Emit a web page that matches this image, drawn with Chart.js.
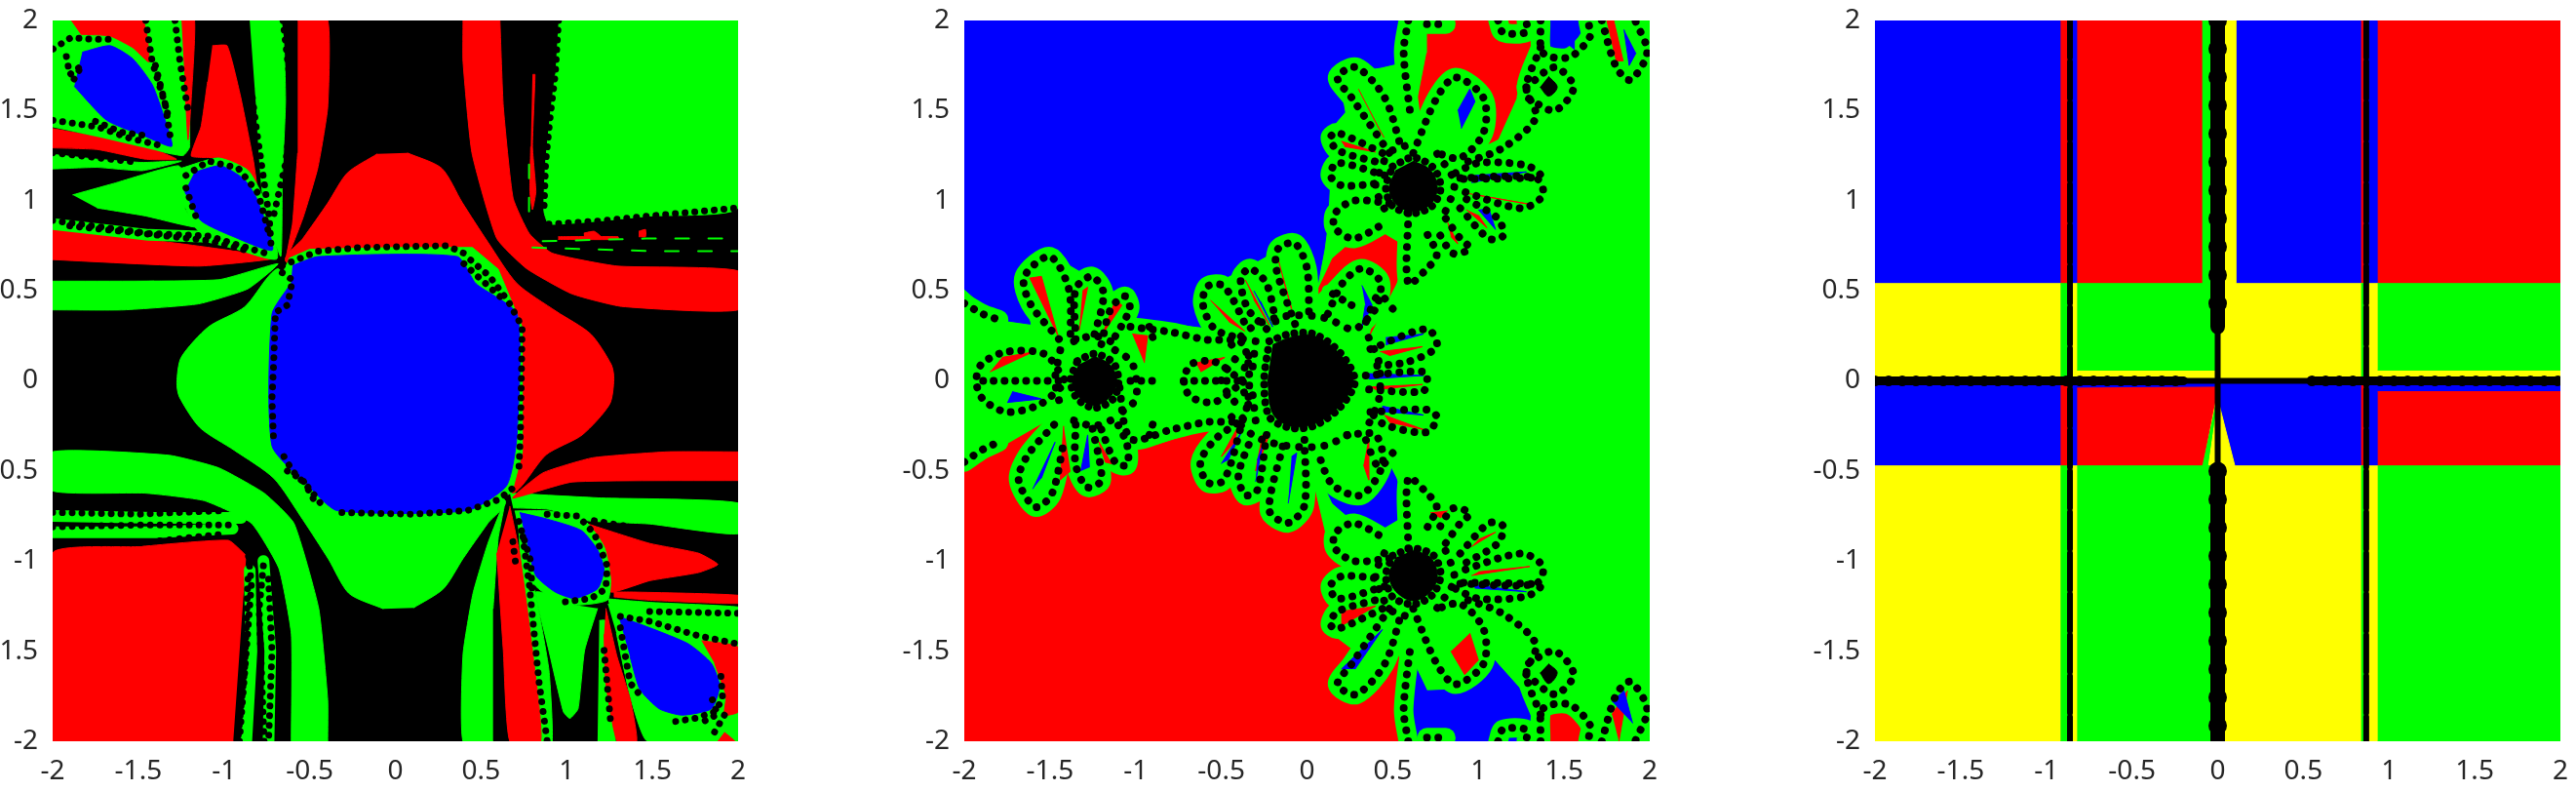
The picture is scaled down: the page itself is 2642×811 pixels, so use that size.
<!DOCTYPE html>
<html>
<head>
<meta charset="utf-8">
<script src="https://cdn.jsdelivr.net/npm/chart.js@4/dist/chart.umd.min.js"></script>
<style>
html, body { margin: 0; padding: 0; background: #fff; }
.panel { position: absolute; top: 0; height: 811px; }
</style>
</head>
<body>
<div class="panel" style="left:0;width:800px"><canvas id="c1" width="800" height="811"></canvas></div>
<div class="panel" style="left:920px;width:800px"><canvas id="c2" width="800" height="811"></canvas></div>
<div class="panel" style="left:1842px;width:800px"><canvas id="c3" width="800" height="811"></canvas></div>
<script>
var tickValues = [-2, -1.5, -1, -0.5, 0, 0.5, 1, 1.5, 2];
var tickLabels = ['-2', '-1.5', '-1', '-0.5', '0', '0.5', '1', '1.5', '2'];

var fullSquare = [[-2, 2], [2, 2], [2, -2], [-2, -2]];

// panel 1
var p1Green = [
    // upper left
    [[-2, 2], [-1.25, 2], [-1.2, 1.3], [-1.24, 1.25], [-1.5, 1.3], [-2, 1.43]],
    [[-2, 1.257], [-1.741, 1.23], [-1.476, 1.212], [-1.248, 1.22], [-1.476, 1.167], [-1.741, 1.185], [-2, 1.176]],
    [[-1.884, 1.032], [-1.646, 1.095], [-1.267, 1.194], [-1.2, 1.1], [-1.229, .96], [-1.153, .852], [-1.457, .915], [-1.741, .96]],
    [[-2, .553], [-1.033, .561], [-.685, .65], [-.86, .511], [-1.15, .427], [-1.585, .394], [-2, .394]],
    [[-.85, 2], [-.669, 2], [-.641, 1.57], [-.66, 1.122], [-.669, .69], [-.774, 1.032], [-.81, 1.482]],
    // upper right block
    [[.952, 2], [2, 2], [2, .96], [1.484, .915], [1.199, .888], [.896, .87], [.867, .942], [.877, 1.212], [.905, 1.48], [.933, 1.7]],
    // lower left band
    [[-.607, -2], [-.607, -1.405], [-.68, -1.04], [-.84, -.79], [-1.115, -.665], [-1.46, -.623], [-2, -.61], [-2, -.394], [-1.32, -.413], [-1.03, -.483], [-.766, -.623], [-.592, -.79], [-.447, -1.265], [-.395, -1.77], [-.395, -2]],
    // lower right
    [[.668, -.623], [1.2, -.65], [2, -.678], [2, -.848], [1.484, -.794], [1.123, -.776], [.896, -.713], [.687, -.705]],
    [[1.24, -1.24], [2, -1.3], [2, -2], [1.47, -2], [1.37, -1.75], [1.29, -1.4]],
    [[1.18, -1.262], [1.104, -1.496], [1.066, -1.82], [1.019, -1.873], [.981, -1.837], [.896, -1.496], [.82, -1.172], [.914, -1.19], [1.047, -1.244]],
    [[1.19, -1.33], [1.225, -1.33], [1.284, -2], [1.18, -2]],
    [[.715, -.776], [.782, -1.01], [.82, -1.19], [.896, -1.604], [.915, -2], [.848, -2], [.8, -1.496], [.725, -.956]],
    [[.57, -2], [.395, -2], [.395, -1.517], [.453, -1.18], [.54, -.902], [.64, -.665], [.6, -.874], [.57, -1.265]],
    [[1.24, -1.21], [1.5, -1.23], [2, -1.255], [2, -1.3], [1.5, -1.28], [1.25, -1.25]]
];
var p1Red = [
    // upper left
    [[-1.893, 2], [-1.476, 2], [-1.438, 1.77], [-1.533, 1.85], [-1.665, 1.914], [-1.836, 1.923]],
    [[-2, 1.4], [-1.741, 1.356], [-1.457, 1.302], [-1.277, 1.23], [-1.457, 1.23], [-1.741, 1.284], [-2, 1.293]],
    [[-2, .843], [-1.267, .763], [-.698, .682], [-1.15, .637], [-2, .673]],
    [[-1.248, 2], [-1.172, 2], [-1.191, 1.57], [-1.21, 1.338], [-1.229, 1.66]],
    [[-1.068, 1.86], [-.982, 1.86], [-.906, 1.59], [-.83, 1.23], [-.81, 1.086], [-.86, 1.168], [-1.033, 1.237], [-1.191, 1.248], [-1.134, 1.41], [-1.096, 1.66]],
    [[-.57, 2], [-.395, 2], [-.395, 1.517], [-.453, 1.18], [-.54, .902], [-.64, .665], [-.6, .874], [-.57, 1.265]],
    // upper right band
    [[.61, 2], [.63, 1.52], [.687, 1.014], [.782, .817], [.914, .709], [1.294, .637], [2, .61], [2, .394], [1.32, .413], [1.03, .483], [.766, .623], [.592, .79], [.447, 1.265], [.395, 1.77], [.395, 2]],
    // lower left block
    [[-.946, -2], [-2, -2], [-2, -.955], [-1.5, -.92], [-.975, -.885], [-.87, -.97]],
    // lower right
    [[1.123, -.794], [1.484, -.902], [1.768, -.956], [1.882, -1.019], [1.768, -1.064], [1.484, -1.109], [1.256, -1.172], [1.228, -1.028], [1.18, -.884]],
    [[1.274, -1.172], [1.389, -1.172], [2, -1.19], [2, -1.235], [1.484, -1.217], [1.275, -1.199]],
    [[1.787, -1.442], [2, -1.478], [2, -1.837], [1.92, -1.855], [1.93, -1.748], [1.863, -1.568]],
    [[1.228, -1.262], [1.294, -1.532], [1.37, -1.765], [1.408, -2], [1.294, -2], [1.228, -1.675], [1.218, -1.406]],
    [[.668, -.695], [.725, -.956], [.8, -1.496], [.848, -2], [.668, -2], [.63, -1.496], [.592, -.956]],
    [[2, -.553], [1.033, -.561], [.685, -.65], [.86, -.511], [1.15, -.427], [1.585, -.394], [2, -.394]],
    [[1.92, -1.95], [1.98, -2], [1.88, -2]],
    // thin strips in the black part, upper right
    [[.8, 1.7], [.815, 1.7], [.8, 1.3], [.82, 1.05], [.8, .95], [.785, 1.05], [.79, 1.3]],
    [[.95, .8], [1.3, .8], [1.3, .785], [.95, .785]],
    [[1.1, .82], [1.16, .83], [1.2, .8], [1.1, .8]],
    [[1.42, .83], [1.46, .84], [1.46, .8], [1.42, .8]]
];
var p1LobeHalos = [
    [[-1.25, 1.18], [-1.033, 1.237], [-.86, 1.168], [-.758, .986], [-.69, .679], [-.888, .72], [-1.15, .832], [-1.237, .986]],
    [[.696, -.722], [.896, -.722], [1.104, -.776], [1.218, -.92], [1.256, -1.1], [1.237, -1.217], [1.047, -1.244], [.914, -1.208], [.8, -1.118], [.744, -.938]]
];
var p1RedLobe = [[.07, 1.265], [.27, 1.18], [.39, .99], [.54, .77], [.71, .54], [.94, .385], [1.14, .26], [1.26, .09], [1.275, .01], [1.25, -.13], [1.09, -.3], [.88, -.41], [.74, -.58], [.68, -.62], [0, 0], [-.64, .665], [-.54, .79], [-.395, .986], [-.28, 1.154], [-.105, 1.26]];
var p1GreenLobe = [[-.07, -1.265], [-.27, -1.18], [-.39, -.99], [-.54, -.77], [-.71, -.54], [-.94, -.385], [-1.14, -.26], [-1.26, -.09], [-1.275, -.01], [-1.25, .13], [-1.09, .3], [-.88, .41], [-.74, .58], [-.68, .62], [0, 0], [.64, -.665], [.54, -.79], [.395, -.986], [.28, -1.154], [.105, -1.26]];
var p1Ring = [[-.62, .68], [-.5, .73], [0, .74], [.45, .74], [.6, .62], [.74, .3], [.74, -.4], [.68, -.62], [.45, -.73], [-.4, -.73], [-.5, -.68], [-.72, -.35], [-.72, .4], [-.66, .6]];
var p1Blue = [
    [[-.6, .64], [-.45, .69], [.36, .69], [.47, .54], [.71, .37], [.71, -.3], [.65, -.58], [.42, -.72], [-.34, -.72], [-.51, -.58], [-.72, -.36], [-.72, .37], [-.61, .54]],
    [[-1.827, 1.824], [-1.665, 1.86], [-1.533, 1.788], [-1.419, 1.644], [-1.343, 1.446], [-1.305, 1.302], [-1.457, 1.356], [-1.684, 1.446], [-1.874, 1.635]],
    [[-1.172, 1.158], [-1.02, 1.194], [-.887, 1.122], [-.81, 1.014], [-.717, .727], [-.944, .8], [-1.134, .889], [-1.229, 1.05]],
    [[.725, -.731], [.886, -.767], [1.085, -.83], [1.18, -.938], [1.218, -1.046], [1.18, -1.154], [1.047, -1.208], [.933, -1.172], [.82, -1.082], [.782, -.956]],
    [[1.303, -1.307], [1.484, -1.37], [1.711, -1.46], [1.844, -1.568], [1.892, -1.694], [1.844, -1.82], [1.673, -1.855], [1.54, -1.82], [1.427, -1.712], [1.37, -1.532]]
];
var p1GreenHalos = [
    [[-2, 1.44], [-1.7, 1.38], [-1.34, 1.3]],
    [[-2, .87], [-1.44, .81], [-1.09, .8], [-.75, .72]],
    [[-2, -.75], [-1.4, -.76], [-.9, -.76]],
    [[-2, -.84], [-1.4, -.84], [-.95, -.82]],
    [[-.85, -1.05], [-.84, -1.5], [-.87, -2]],
    [[-.77, -1], [-.73, -1.5], [-.74, -2]]
];
var p1ThinGreen = [
    [[.86, .775], [1.46, .79], [2, .79]],
    [[.8, .74], [1.5, .72], [2, .72]],
    [[.78, 1.2], [.78, .9]]
];
var p1DotChains = [
    [[-1.998, 1.446], [-1.741, 1.41], [-1.552, 1.347], [-1.352, 1.302]],
    [[-1.75, 1.44], [-1.6, 1.38], [-1.45, 1.36]],
    [[-1.998, 1.842], [-1.893, 1.905], [-1.779, 1.896], [-1.646, 1.896]],
    [[-1.92, 1.8], [-1.9, 1.7], [-1.83, 1.75], [-1.89, 1.65]],
    [[-1.457, 2], [-1.419, 1.77], [-1.343, 1.536], [-1.314, 1.356]],
    [[-1.4, 1.75], [-1.36, 1.6], [-1.32, 1.45]],
    [[-2, 1.266], [-1.495, 1.212]],
    [[-2, .89], [-1.44, .818], [-1.09, .804], [-.73, .7]],
    [[-1.9, .86], [-1.5, .82], [-1.1, .78], [-.85, .72]],
    [[-1.286, 2], [-1.257, 1.77], [-1.21, 1.5]],
    [[-1.222, 1.14], [-1.09, 1.22], [-.917, 1.18], [-.8, 1.04], [-.73, .79]],
    [[-1.222, 1.07], [-1.15, .874]],
    [[-.897, 2], [-.859, 1.752], [-.81, 1.392], [-.736, .906], [-.726, .762]],
    [[-.656, 2], [-.6, 1.545], [-.64, 1.21], [-.714, .902]],
    [[-.66, .6], [-.6, .56], [-.63, .42], [-.7, .38], [-.71, .1], [-.72, -.1], [-.71, -.35]],
    [[-.66, .64], [-.45, .72], [-.2, .74], [.3, .75], [.42, .7]],
    [[.44, .67], [.55, .58], [.66, .44], [.74, .3], [.73, -.3], [.72, -.5]],
    [[.68, -.6], [.6, -.66], [.42, -.72], [.1, -.74], [-.35, -.73]],
    [[-.65, -.42], [-.6, -.5], [-.5, -.6], [-.42, -.7]],
    [[-.63, -.5], [-.54, -.55], [-.47, -.67]],
    [[.4, .65], [.48, .58], [.62, .46]],
    // edge of the upper right block
    [[.952, 2], [.933, 1.7], [.905, 1.48], [.877, 1.212], [.867, .942]],
    [[.896, .87], [1.199, .888], [1.484, .915], [2, .96]],
    // lower left
    [[-.766, -2], [-.795, -1.265], [-.766, -.986]],
    [[-.91, -2], [-.84, -1.126], [-.86, -.95]],
    [[-2, -.73], [-1.5, -.74], [-1, -.72]],
    [[-2, -.81], [-1.5, -.8], [-.95, -.8]],
    [[-2, -.9], [-1.5, -.9], [-1, -.85]],
    [[-2, -.66], [-1.5, -.68]],
    [[-.86, -1.1], [-.88, -1.6], [-.92, -2]],
    [[-.74, -1.1], [-.72, -1.5], [-.74, -2]],
    // lower right
    [[.886, -.74], [1.066, -.75], [1.161, -.848], [1.237, -1.028], [1.228, -1.154], [1.142, -1.208], [.99, -1.226]],
    [[1.161, -.776], [1.484, -.83], [1.768, -.866], [2, -.902]],
    [[.744, -.866], [.782, -1.136], [.839, -1.676], [.886, -2]],
    [[.72, -.78], [.79, -1.0], [.8, -1.2]],
    [[1.313, -1.307], [1.484, -1.334], [1.768, -1.415], [2, -1.46]],
    [[1.484, -1.28], [2, -1.29]],
    [[1.9, -1.64], [1.91, -1.765], [1.863, -1.837], [1.75, -1.873], [1.635, -1.89]],
    [[1.313, -1.37], [1.37, -1.676], [1.446, -1.765]],
    [[1.218, -1.496], [1.256, -1.892]],
    [[1.92, -1.855], [1.844, -1.98]],
    [[1.85, -1.77], [1.88, -1.85], [1.78, -1.9]],
    [[.7, -1], [.68, -.85]]
];

// panel 2
var p2Blue = [
    [[-2, 2], [.55, 2], [.564, 1.77], [.43, 1.74], [.18, 1.71], [.22, 1.49], [.12, 1.38], [.136, 1.18], [.12, .875], [.1, .73], [.04, .43], [-.11, .76], [-.375, .62], [-.61, .51], [-.54, .29], [-.79, .32], [-1.03, .32], [-1.05, .455], [-1.27, .58], [-1.45, .68], [-1.685, .595], [-1.615, .315], [-1.8, .34], [-2, .51]],
    [[.59, -1.5], [.7, -1.72], [.948, -1.71], [1.047, -1.5], [1.335, -1.807], [1.335, -2], [.59, -2]],
    [[.04, -.455], [.15, -.68], [.37, -.86], [.59, -.735], [.52, -.54], [.37, -.26], [.44, -.54], [.34, -.64], [.18, -.595]],
    [[1.377, 2], [1.39, 1.807], [1.53, 1.72], [1.64, 1.95], [1.653, 2]]
];
var p2Red = [
    [[-2, -.47], [-1.8, -.38], [-1.5, -.215], [-1.64, -.55], [-1.585, -.7], [-1.365, -.355], [-1.28, -.59], [-1.2, -.58], [-1.06, -.33], [-.87, -.355], [-.4, -.215], [-.59, -.55], [-.235, -.63], [-.125, -.77], [.01, -.47], [.12, -.91], [.26, -1.08], [.12, -1.39], [.315, -1.53], [.23, -1.75], [.535, -1.53], [.55, -2], [-2, -2]],
    [[.7, 2], [1.32, 2], [1.32, 1.85], [1.25, 1.63], [1.09, 1.29], [.91, 1.24], [1.03, 1.49], [.92, 1.68], [.76, 1.66], [.62, 1.43], [.7, 1.82]],
    [[.04, .455], [.15, .68], [.37, .86], [.59, .735], [.52, .54], [.37, .26], [.44, .54], [.34, .64], [.18, .595]],
    [[1.377, -2], [1.39, -1.807], [1.53, -1.72], [1.64, -1.95], [1.653, -2]]
];
var p2Discs = [
    [[-.3, .33], [0, .42], [.3, .33], [.42, 0], [.3, -.33], [0, -.42], [-.3, -.33], [-.42, 0]],
    [[-1.38, .2], [-1.24, .26], [-1.1, .2], [-1.03, 0], [-1.1, -.2], [-1.24, -.26], [-1.38, -.2], [-1.45, 0]],
    [[.46, 1.24], [.62, 1.32], [.8, 1.26], [.88, 1.08], [.8, .9], [.62, .84], [.46, .9], [.4, 1.08]],
    [[.46, -.9], [.62, -.84], [.8, -.9], [.88, -1.08], [.8, -1.26], [.62, -1.32], [.46, -1.24], [.4, -1.08]]
];
var p2Petals = [
    // middle flower
    [[.37, .176], [.7, .288], [.757, .19], [.59, .106], [.37, .08]],
    [[.343, .03], [.688, .05], [.7, -.006], [.674, -.06], [.343, -.047]],
    [[.37, -.173], [.7, -.16], [.757, -.2], [.7, -.285], [.453, -.243], [.37, -.173]],
    [[.233, -.3], [.4, -.3], [.44, -.466], [.316, -.634], [.15, -.578], [.067, -.41]],
    [[-.015, -.327], [-.015, -.69], [-.11, -.788], [-.22, -.718], [-.14, -.355]],
    [[-.236, -.3], [-.29, -.606], [-.36, -.634], [-.4, -.522], [-.318, -.3]],
    [[-.374, -.215], [-.484, -.55], [-.58, -.564], [-.622, -.452], [-.539, -.327], [-.4, -.229]],
    [[-.374, .232], [-.539, .288], [-.608, .427], [-.58, .525], [-.484, .525], [-.346, .288]],
    [[-.236, .288], [-.346, .4], [-.387, .567], [-.332, .623], [-.236, .539], [-.18, .316]],
    [[-.07, .316], [-.18, .623], [-.167, .735], [-.07, .763], [0, .623], [.012, .372]],
    [[.122, .372], [.205, .539], [.316, .623], [.426, .553], [.4, .4], [.26, .26]],
    [[-.374, -.006], [-.539, .106], [-.677, .092], [-.718, -.006], [-.677, -.09], [-.539, -.117], [-.374, -.006]],
    // left flower
    [[-1.417, .008], [-1.53, .148], [-1.752, .162], [-1.9, .092], [-1.93, -.006], [-1.89, -.103], [-1.752, -.173], [-1.56, -.131], [-1.417, -.02]],
    [[-1.448, .232], [-1.614, .427], [-1.65, .578], [-1.5, .69], [-1.39, .51], [-1.38, .232]],
    [[-1.35, .232], [-1.35, .51], [-1.256, .58], [-1.187, .483], [-1.256, .204]],
    [[-1.2, .204], [-1.145, .4], [-1.063, .47], [-1.035, .4], [-1.145, .204]],
    [[-1.476, -.243], [-1.628, -.41], [-1.683, -.55], [-1.587, -.7], [-1.49, -.63], [-1.42, -.346]],
    [[-1.35, -.243], [-1.35, -.466], [-1.283, -.59], [-1.2, -.55], [-1.256, -.243]],
    [[-1.2, -.27], [-1.118, -.453], [-1.05, -.466], [-1.05, -.355], [-1.118, -.215]],
    [[-1.03, .3], [-.79, .27], [-.6, .23], [-.37, .2], [-.37, -.2], [-.6, -.23], [-.79, -.27], [-1.03, -.32], [-1.1, 0]],
    // upper flower
    [[.48, 1.265], [.26, 1.572], [.178, 1.684], [.288, 1.74], [.453, 1.572], [.55, 1.293]],
    [[.44, 1.265], [.178, 1.377], [.136, 1.35], [.178, 1.28], [.426, 1.21]],
    [[.453, 1.14], [.178, 1.21], [.136, 1.14], [.205, 1.084], [.453, 1.1]],
    [[.48, .986], [.274, 1], [.164, .93], [.164, .846], [.274, .79], [.453, .874]],
    [[.591, .93], [.591, .54], [.7, .623], [.757, .7], [.7, .818]],
    [[.81, .9], [.894, .79], [.95, .735], [.853, .707], [.77, .818]],
    [[.894, .958], [1.06, .79], [1.143, .804], [1.115, .9], [.92, 1.014]],
    [[.894, 1.126], [1.335, 1.126], [1.377, 1.03], [1.25, .958], [.894, 1.056]],
    [[.867, 1.154], [1.005, 1.21], [1.28, 1.196], [1.363, 1.14], [1.28, 1.126], [.9, 1.12]],
    [[.62, 1.265], [.757, 1.57], [.867, 1.684], [1.03, 1.57], [1.03, 1.377], [.894, 1.237], [.757, 1.265]],
    // lower flower
    [[.48, -1.265], [.26, -1.572], [.178, -1.684], [.288, -1.74], [.453, -1.572], [.55, -1.293]],
    [[.44, -1.265], [.178, -1.377], [.136, -1.35], [.178, -1.28], [.426, -1.21]],
    [[.453, -1.14], [.178, -1.21], [.136, -1.14], [.205, -1.084], [.453, -1.1]],
    [[.48, -.986], [.274, -1], [.164, -.93], [.164, -.846], [.274, -.79], [.453, -.874]],
    [[.591, -.93], [.591, -.54], [.7, -.623], [.757, -.7], [.7, -.818]],
    [[.81, -.9], [.894, -.79], [.95, -.735], [.853, -.707], [.77, -.818]],
    [[.894, -.958], [1.06, -.79], [1.143, -.804], [1.115, -.9], [.92, -1.014]],
    [[.894, -1.126], [1.335, -1.126], [1.377, -1.03], [1.25, -.958], [.894, -1.056]],
    [[.867, -1.154], [1.005, -1.21], [1.28, -1.196], [1.363, -1.14], [1.28, -1.126], [.9, -1.12]],
    [[.62, -1.265], [.757, -1.57], [.867, -1.684], [1.03, -1.57], [1.03, -1.377], [.894, -1.237], [.757, -1.265]],
    // small flowers on the right
    [[1.28, 1.63], [1.445, 1.74], [1.556, 1.63], [1.445, 1.5], [1.28, 1.574]],
    [[1.28, -1.63], [1.445, -1.74], [1.556, -1.63], [1.445, -1.5], [1.28, -1.574]]
];
var p2OpenChains = [
    [[-2, .43], [-1.89, .37], [-1.8, .34]],
    [[-2, -.45], [-1.89, -.38], [-1.8, -.34]],
    [[.591, 2], [.564, 1.824], [.605, 1.46]],
    [[.7, 1.98], [.81, 1.98]],
    [[1.363, 1.85], [1.28, 1.63], [1.335, 1.46], [1.143, 1.293], [.92, 1.21]],
    [[1.363, 2], [1.377, 1.82], [1.53, 1.796], [1.65, 1.908], [1.64, 2]],
    [[1.72, 2], [1.805, 1.74], [1.887, 1.67], [1.985, 1.824], [1.915, 2]],
    [[1.115, 2], [1.143, 1.935], [1.28, 1.935], [1.28, 2]],
    [[.591, -2], [.564, -1.824], [.605, -1.46]],
    [[.7, -1.98], [.81, -1.98]],
    [[1.363, -1.85], [1.28, -1.63], [1.335, -1.46], [1.143, -1.293], [.92, -1.21]],
    [[1.363, -2], [1.377, -1.82], [1.53, -1.796], [1.65, -1.908], [1.64, -2]],
    [[1.72, -2], [1.805, -1.74], [1.887, -1.67], [1.985, -1.824], [1.915, -2]],
    [[1.115, -2], [1.143, -1.935], [1.28, -1.935], [1.28, -2]]
];
var p2Spokes = [
    [[-.72, 0], [-.37, 0]],
    [[-1.89, 0], [-1.42, 0]],
    [[-1.03, 0], [-.9, 0]],
    [[-.92, .3], [-.9, .24]],
    [[-.92, -.3], [-.9, -.24]],
    [[.26, .42], [.12, .5]]
];
var p2BlobRings = [
    // dots sitting on the edge of the blobs
    [[-.22, .22], [-.1, .26], [.04, .26], [.19, .16], [.28, 0], [.19, -.15], [.04, -.25], [-.1, -.26], [-.22, -.2], [-.25, 0], [-.22, .22]],
    [[-1.34, .11], [-1.24, .15], [-1.13, .1], [-1.1, 0], [-1.13, -.1], [-1.24, -.15], [-1.34, -.1], [-1.38, 0], [-1.34, .11]],
    [[.5, 1.19], [.62, 1.24], [.74, 1.18], [.78, 1.07], [.73, .97], [.62, .93], [.5, .97], [.46, 1.07], [.5, 1.19]],
    [[.5, -.97], [.62, -.93], [.74, -.97], [.78, -1.08], [.73, -1.19], [.62, -1.24], [.5, -1.2], [.46, -1.08], [.5, -.97]]
];
var p2LooseDots = [
    // scattered dots between the blobs and the petals
    [[-.44, .2], [-.3, .31], [-.12, .36], [.1, .35], [.3, .26]],
    [[-.44, -.2], [-.3, -.31], [-.12, -.36], [.1, -.36], [.3, -.27]],
    [[-.42, .12], [-.5, 0], [-.42, -.12]],
    [[-.34, .14], [-.38, 0], [-.34, -.14]],
    [[-.3, .22], [-.32, .05]],
    [[-.3, -.22], [-.32, -.05]],
    [[.36, .24], [.42, .1], [.42, -.1], [.36, -.24]],
    [[-1.44, .17], [-1.47, 0], [-1.43, -.17]],
    [[-1.36, .22], [-1.24, .25], [-1.1, .2]],
    [[-1.36, -.22], [-1.24, -.25], [-1.1, -.2]],
    [[-1.12, .17], [-1.02, .1], [-1.0, -.1], [-1.12, -.2]],
    [[.76, 1.26], [.86, 1.1], [.8, .92]],
    [[.45, 1.22], [.4, 1.08], [.48, .9]],
    [[.5, 1.28], [.62, 1.32]],
    [[.76, -1.26], [.86, -1.1], [.8, -.92]],
    [[.45, -1.22], [.4, -1.08], [.48, -.9]],
    [[.5, -1.28], [.62, -1.32]],
    [[.5, .4], [.42, .48], [.34, .32]],
    [[.5, -.4], [.42, -.48], [.34, -.32]]
];
var p2RedSlivers = [
    [[.426, .162], [.674, .19], [.48, .14]],
    [[.37, -.034], [.674, -.02], [.4, -.05]],
    [[.45, -.19], [.68, -.27], [.48, -.23]],
    [[.357, -.327], [.36, -.55], [.33, -.466]],
    [[-.563, .447], [-.363, .276], [-.458, .33]],
    [[-.36, .56], [-.22, .31], [-.31, .45]],
    [[-.17, .68], [-.09, .4], [-.14, .57]],
    [[-.65, .1], [-.48, .13], [-.62, .05]],
    [[-.4, -.25], [-.5, -.42], [-.42, -.34]],
    [[-.22, -.3], [-.3, -.5], [-.26, -.3]],
    [[-1.62, .57], [-1.55, .58], [-1.45, .24]],
    [[-1.85, .05], [-1.6, .16], [-1.78, .13]],
    [[-1.33, .28], [-1.28, .52], [-1.31, .5]],
    [[-1.12, .45], [-1.08, .42], [-1.2, .25]],
    [[-1.42, -.25], [-1.44, -.55], [-1.38, -.5]],
    [[-1.22, -.33], [-1.14, -.46], [-1.18, -.45]],
    [[.3, 1.62], [.42, 1.4], [.45, 1.35]],
    [[.2, 1.33], [.4, 1.27], [.22, 1.3]],
    [[.94, 1.04], [1.3, .98], [1.0, 1.03]],
    [[.93, .95], [1.05, .85], [1.0, .92]],
    [[.82, .88], [.88, .76], [.84, .8]],
    [[.96, -.92], [1.1, -.84], [1.0, -.88]],
    [[.96, -1.08], [1.3, -1.03], [1.0, -1.06]],
    [[.84, -1.5], [.92, -1.63], [1.0, -1.55], [.95, -1.4]],
    [[.2, -1.36], [.4, -1.25], [.2, -1.28]],
    [[.72, -.73], [.78, -.76], [.82, -.72]],
    [[-1.02, .26], [-.93, .25], [-.95, .1]],
    [[1.75, 2], [1.805, 1.776], [1.845, 1.776], [1.79, 2]],
    [[1.78, -1.85], [1.87, -1.72], [1.82, -2]]
];
var p2BlueSlivers = [
    [[.46, .24], [.68, .26], [.46, .2]],
    [[.36, .04], [.68, .03], [.36, .01]],
    [[.44, -.14], [.68, -.19], [.44, -.17]],
    [[-.5, -.46], [-.38, -.28], [-.46, -.44]],
    [[-.3, -.56], [-.26, -.36], [-.29, -.44]],
    [[-.11, -.68], [-.06, -.4], [-.09, -.42]],
    [[-.31, .5], [-.2, .3], [-.27, .44]],
    [[.32, .53], [.38, .42], [.32, .3], [.34, .42]],
    [[-1.6, -.6], [-1.47, -.34], [-1.55, -.54]],
    [[-1.32, -.5], [-1.28, -.3], [-1.27, -.48]],
    [[-1.75, -.12], [-1.55, -.1], [-1.72, -.06]],
    [[.96, 1.1], [1.28, 1.16], [.98, 1.14]],
    [[1.0, .95], [1.1, .84], [1.06, .96]],
    [[.9, 1.4], [.98, 1.55], [.95, 1.62], [.88, 1.5]],
    [[1.42, 1.95], [1.56, 1.84], [1.56, 1.9]],
    [[.96, -1.13], [1.28, -1.17], [.98, -1.15]],
    [[.2, -1.6], [.44, -1.38], [.28, -1.6]],
    [[1.85, 1.95], [1.88, 1.75], [1.92, 1.82]],
    [[1.9, -1.9], [1.85, -1.72], [1.78, -1.78]]
];
var p2Blobs = [
    [[-.2, .2], [-.1, .24], [.04, .25], [.19, .15], [.27, .008], [.19, -.14], [.04, -.24], [-.1, -.25], [-.2, -.18], [-.23, .008]],
    [[-1.24, .135], [-1.15, .09], [-1.11, 0], [-1.15, -.09], [-1.24, -.135], [-1.33, -.09], [-1.37, 0], [-1.33, .09]],
    [[.62, 1.22], [.72, 1.17], [.76, 1.07], [.72, .98], [.62, .94], [.52, .98], [.48, 1.07], [.52, 1.17]],
    [[.62, -.94], [.72, -.98], [.76, -1.08], [.72, -1.17], [.62, -1.22], [.52, -1.17], [.48, -1.08], [.52, -.98]],
    [[1.41, 1.69], [1.46, 1.63], [1.41, 1.58], [1.36, 1.63]],
    [[1.41, -1.57], [1.46, -1.62], [1.41, -1.68], [1.36, -1.62]]
];

// panel 3
var p3Blue = [
    [[-2, 2], [-.917, 2], [-.917, .54], [-2, .54]],
    [[-.87, 2], [-.82, 2], [-.82, .54], [-.87, .54]],
    [[.105, 2], [.934, 2], [.934, .54], [.105, .54]],
    [[-2, 0], [-.917, 0], [-.917, -.472], [-2, -.472]],
    [[-.87, 0], [-.82, 0], [-.82, -.472], [-.87, -.472]],
    [[0, 0], [.934, 0], [.934, -.472], [0, -.472]],
    [[-.82, 0], [0, 0], [0, -.035], [-.82, -.04]],
    [[.934, 0], [2, 0], [2, -.06], [.934, -.06]]
];
var p3Red = [
    [[-.917, 2], [-.87, 2], [-.87, .54], [-.917, .54]],
    [[-.82, 2], [-.09, 2], [-.09, .54], [-.82, .54]],
    [[.934, 2], [2, 2], [2, .54], [.934, .54]],
    [[.837, 2], [.85, 2], [.85, .54], [.837, .54]],
    [[-.917, 0], [-.87, 0], [-.87, -.472], [-.917, -.472]],
    [[-.82, -.04], [0, -.035], [-.09, -.472], [-.82, -.472]],
    [[.934, -.06], [2, -.06], [2, -.472], [.934, -.472]],
    [[.837, 0], [.85, 0], [.85, -.472], [.837, -.472]]
];
var p3Yellow = [
    [[-2, .54], [-.917, .54], [-.917, 0], [-2, 0]],
    [[-.87, .54], [-.82, .54], [-.82, 0], [-.87, 0]],
    [[0, .54], [.934, .54], [.934, 0], [0, 0]],
    [[-2, -.472], [-.917, -.472], [-.917, -2], [-2, -2]],
    [[-.87, -.472], [-.82, -.472], [-.82, -2], [-.87, -2]],
    [[0, -.472], [.934, -.472], [.934, -2], [0, -2]],
    [[.934, .06], [2, .06], [2, 0], [.934, 0]],
    [[-.82, .06], [-.1, .03], [0, .02], [0, 0], [-.82, 0]],
    [[.03, 2], [.105, 2], [.105, .54], [.03, .54]],
    [[0, -.1], [.1, -.472], [0, -.472]]
];
var p3Green = [
    [[-.917, .54], [-.87, .54], [-.87, 0], [-.917, 0]],
    [[-.82, .54], [0, .54], [0, .06], [-.82, .06]],
    [[.934, .54], [2, .54], [2, .06], [.934, .06]],
    [[.837, .54], [.85, .54], [.85, 0], [.837, 0]],
    [[-.917, -.472], [-.87, -.472], [-.87, -2], [-.917, -2]],
    [[-.82, -.472], [-.02, -.472], [-.02, -2], [-.82, -2]],
    [[.934, -.472], [2, -.472], [2, -2], [.934, -2]],
    [[.837, -.472], [.855, -.472], [.855, -2], [.837, -2]],
    [[-.09, 2], [-.03, 2], [-.03, .54], [-.09, .54]],
    [[-.09, -.472], [-.06, -.472], [0, -.08]],
    [[-.06, -.5], [-.04, -.5], [-.04, -2], [-.06, -2]]
];
var p3BlackWide = [
    [[0, 2], [0, .3]],
    [[0, -.5], [0, -2]]
];
var p3BlackMid = [
    [[-2, 0], [-.2, 0]],
    [[.55, 0], [2, 0]]
];
var p3BlackThin = [
    [[-.25, 0], [.6, 0]],
    [[0, .3], [0, -.5]]
];
var p3DashedLines = [
    [[-.862, 2], [-.862, -2]],
    [[.867, 2], [.867, -2]]
];

var RED = '#ff0000', GREEN = '#00ff00', BLUE = '#0000ff', BLACK = '#000000', YELLOW = '#ffff00';

function toXY(pts) {
    return pts.map(function (p) { return { x: p[0], y: p[1] }; });
}

function area(pts, color, tension) {
    return {
        data: toXY(pts), showLine: true, fill: 'shape', backgroundColor: color, borderColor: color,
        borderWidth: 1, pointRadius: 0, tension: tension || 0, clip: 0
    };
}

function stroke(pts, color, width, dash, tension) {
    return {
        data: toXY(pts), showLine: true, fill: false, borderColor: color, borderWidth: width,
        borderCapStyle: 'round', borderJoinStyle: 'round', borderDash: dash || [], pointRadius: 0,
        tension: tension || 0, clip: 0
    };
}

function makeChart(id, left, rightPad, sets) {
    // first item in sets is painted first
    sets.forEach(function (s, i) { s.order = sets.length - i; });
    return new Chart(document.getElementById(id), {
        type: 'scatter',
        data: { datasets: sets },
        options: {
            responsive: false,
            animation: false,
            events: [],
            layout: { padding: { top: 21, right: rightPad, left: 0, bottom: 0 } },
            plugins: { legend: { display: false }, tooltip: { enabled: false } },
            scales: {
                x: {
                    type: 'linear', min: -2, max: 2,
                    afterFit: function (s) { s.height = 51; s.paddingLeft = 0; s.paddingRight = 0; },
                    afterBuildTicks: function (s) { s.ticks = tickValues.map(function (v) { return { value: v }; }); },
                    grid: { display: false }, border: { display: false },
                    ticks: {
                        autoSkip: false, maxRotation: 0, padding: 6, color: '#262626',
                        font: { family: '"Liberation Sans Narrow", "Noto Sans"', size: 28 },
                        callback: function (v, i) { return tickLabels[i]; }
                    }
                },
                y: {
                    type: 'linear', min: -2, max: 2,
                    afterFit: function (s) { s.width = left; s.paddingTop = 0; s.paddingBottom = 0; },
                    afterBuildTicks: function (s) { s.ticks = tickValues.map(function (v) { return { value: v }; }); },
                    grid: { display: false }, border: { display: false },
                    ticks: {
                        autoSkip: false, padding: 7, color: '#262626',
                        font: { family: '"Liberation Sans Narrow", "Noto Sans"', size: 28 },
                        callback: function (v, i) { return tickLabels[i]; }
                    }
                }
            }
        }
    });
}

// panel 1 layers
var sets1 = [area(fullSquare, BLACK)];
p1Green.forEach(function (p) { sets1.push(area(p, GREEN, .15)); });
p1Red.forEach(function (p) { sets1.push(area(p, RED, .15)); });
sets1.push(area(p1RedLobe, RED, .25));
sets1.push(area(p1GreenLobe, GREEN, .25));
p1LobeHalos.forEach(function (p) { sets1.push(area(p, GREEN, .2)); });
p1GreenHalos.forEach(function (p) { sets1.push(stroke(p, GREEN, 12)); });
p1ThinGreen.forEach(function (p) { sets1.push(stroke(p, GREEN, 2, [14, 20])); });
sets1.push(area(p1Ring, GREEN));
p1Blue.forEach(function (p) { sets1.push(area(p, BLUE, .2)); });
p1DotChains.forEach(function (p) { sets1.push(stroke(p, BLACK, 7, [0.01, 10])); });
makeChart('c1', 54, 43, sets1);

// panel 2 layers
var sets2 = [area(fullSquare, GREEN)];
p2Blue.forEach(function (p) { sets2.push(area(p, BLUE)); });
p2Red.forEach(function (p) { sets2.push(area(p, RED)); });
p2Discs.forEach(function (p) { sets2.push(area(p, GREEN, .3)); });
p2Petals.forEach(function (p) { sets2.push(area(p, GREEN, .3)); });
p2Petals.forEach(function (p) { sets2.push(stroke(p, GREEN, 20, [], .3)); });
p2OpenChains.forEach(function (p) { sets2.push(stroke(p, GREEN, 20, [], .3)); });
p2Spokes.forEach(function (p) { sets2.push(stroke(p, GREEN, 12, [], .3)); });
p2RedSlivers.forEach(function (p) { sets2.push(area(p, RED)); });
p2BlueSlivers.forEach(function (p) { sets2.push(area(p, BLUE)); });
p2Petals.forEach(function (p) { sets2.push(stroke(p, BLACK, 8, [0.01, 11.5], .3)); });
p2OpenChains.forEach(function (p) { sets2.push(stroke(p, BLACK, 8, [0.01, 11.5], .3)); });
p2Spokes.forEach(function (p) { sets2.push(stroke(p, BLACK, 8, [0.01, 11], .3)); });
p2LooseDots.forEach(function (p) { sets2.push(stroke(p, BLACK, 8, [0.01, 13], .3)); });
p2BlobRings.forEach(function (p) { sets2.push(stroke(p, BLACK, 8, [0.01, 9], .3)); });
p2Blobs.forEach(function (p) { sets2.push(area(p, BLACK, .35)); });
makeChart('c2', 69, 28, sets2);

// panel 3 layers
var sets3 = [area(fullSquare, YELLOW)];
p3Green.forEach(function (p) { sets3.push(area(p, GREEN)); });
p3Blue.forEach(function (p) { sets3.push(area(p, BLUE)); });
p3Red.forEach(function (p) { sets3.push(area(p, RED)); });
p3Yellow.forEach(function (p) { sets3.push(area(p, YELLOW)); });
p3Green.forEach(function (p) { sets3.push(area(p, GREEN)); });
p3DashedLines.forEach(function (p) { sets3.push(stroke(p, BLACK, 6, [38, 4])); });
p3BlackThin.forEach(function (p) { sets3.push(stroke(p, BLACK, 6)); });
p3BlackMid.forEach(function (p) { sets3.push(stroke(p, BLACK, 9)); });
p3BlackMid.forEach(function (p) { sets3.push(stroke(p, BLACK, 11, [0.01, 14])); });
p3BlackWide.forEach(function (p) { sets3.push(stroke(p, BLACK, 15)); });
p3BlackWide.forEach(function (p) { sets3.push(stroke(p, BLACK, 19, [0.01, 29])); });
makeChart('c3', 81, 16, sets3);
</script>
</body>
</html>
